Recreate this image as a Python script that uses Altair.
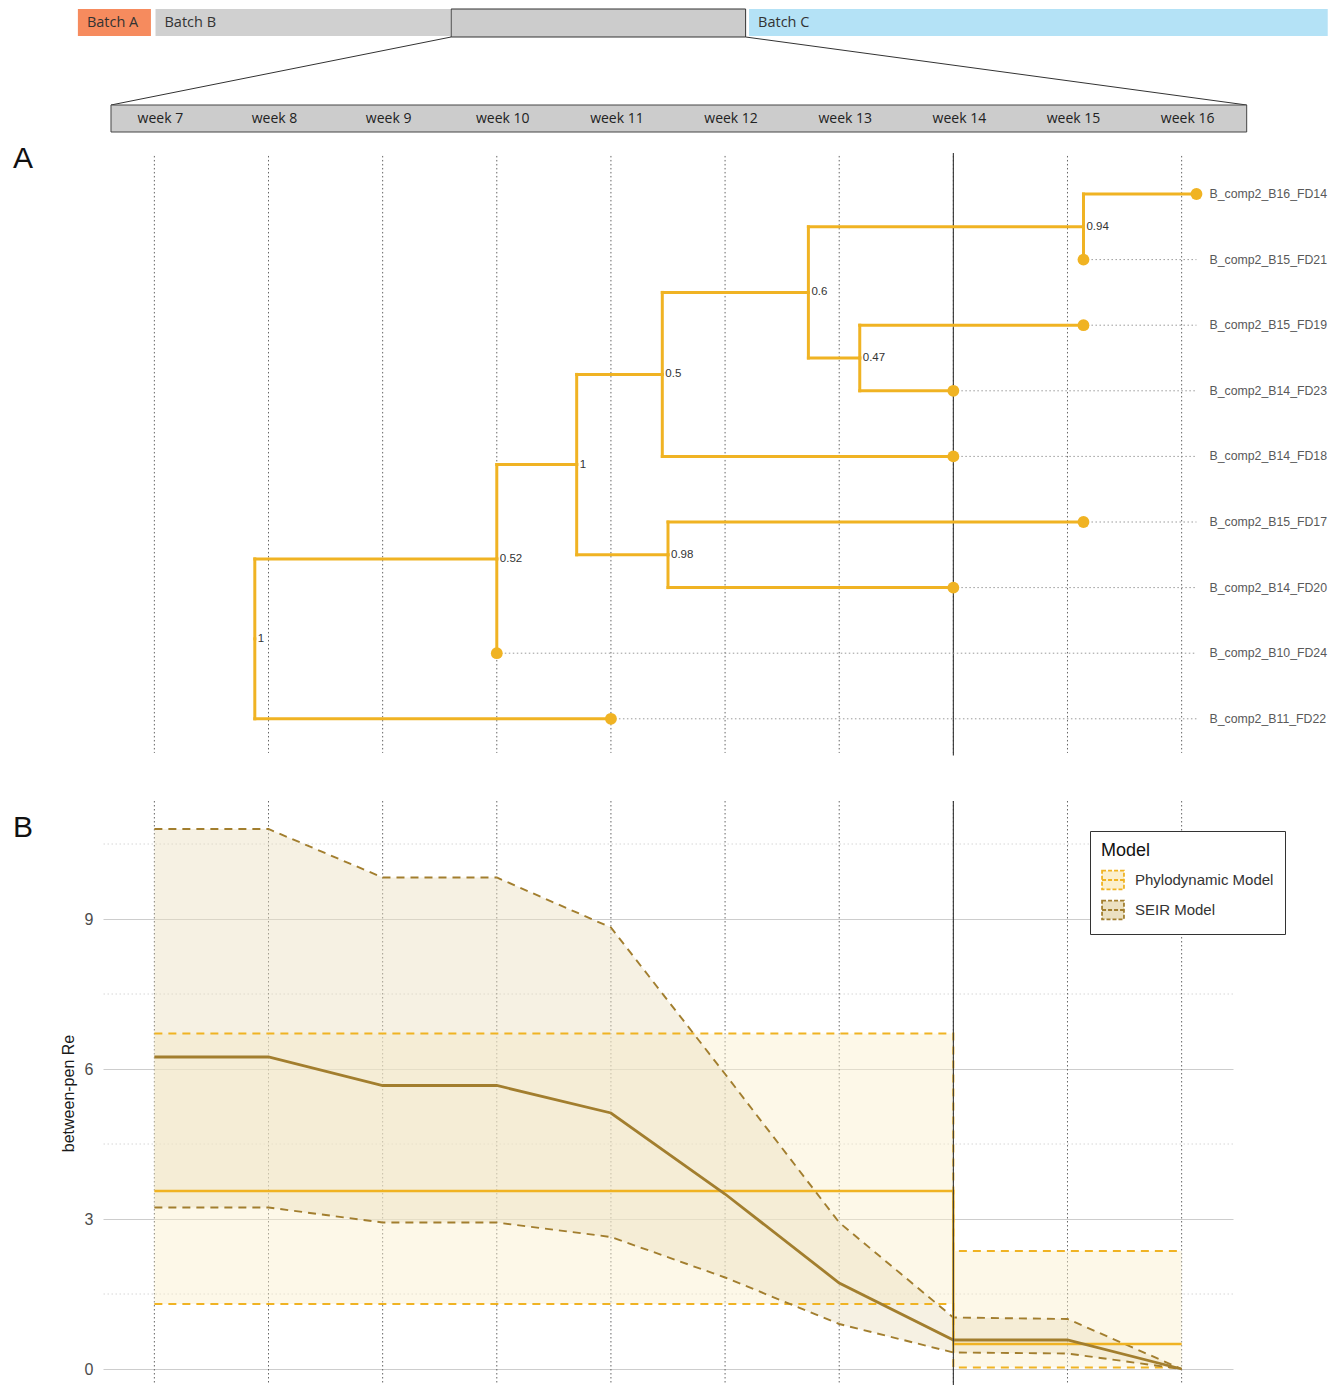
import altair as alt
import pandas as pd

# ---------------- data ----------------
weeks = list(range(7, 17))
week_labels = [f"week {w}" for w in weeks]

# header timeline (in week units of the zoomed scale)
batch_names = ["Batch A", "Batch B", "Batch C"]
batch_start = [6.33, 7.01, 12.21]
batch_end = [6.97, 9.59, 17.28]
batch_colors = ["#F68B5E", "#D0D0D0", "#B4E2F6"]
zoom_start, zoom_end = 9.60, 12.18
weekbar_start, weekbar_end = 6.62, 16.57

# phylogenetic tree
tip_names = ["B_comp2_B16_FD14", "B_comp2_B15_FD21", "B_comp2_B15_FD19",
             "B_comp2_B14_FD23", "B_comp2_B14_FD18", "B_comp2_B15_FD17",
             "B_comp2_B14_FD20", "B_comp2_B10_FD24", "B_comp2_B11_FD22"]
tip_times = [16.13, 15.14, 15.14, 14.0, 14.0, 15.14, 14.0, 10.0, 11.0]
tip_parents = ["n094", "n094", "n047", "n047", "n05", "n098", "n098", "n052", "root"]

node_ids = ["n094", "n047", "n06", "n05", "n098", "n1b", "n052", "root"]
node_times = [15.14, 13.18, 12.73, 11.45, 11.50, 10.70, 10.0, 7.88]
node_parents = ["n06", "n06", "n05", "n1b", "n1b", "n052", "root", ""]
node_support = ["0.94", "0.47", "0.6", "0.5", "0.98", "1", "0.52", "1"]

# between-pen Re
seir_weeks = weeks
seir_median = [6.24, 6.24, 5.67, 5.67, 5.12, 3.50, 1.72, 0.58, 0.58, 0.0]
seir_lower = [3.23, 3.23, 2.93, 2.93, 2.64, 1.83, 0.90, 0.33, 0.31, 0.0]
seir_upper = [10.80, 10.80, 9.83, 9.83, 8.83, 5.90, 2.93, 1.03, 1.00, 0.0]

phylo_weeks = [7, 14, 16]
phylo_median = [3.56, 0.50, 0.50]
phylo_lower = [1.30, 0.03, 0.03]
phylo_upper = [6.71, 2.36, 2.36]

model_names = ["Phylodynamic Model", "SEIR Model"]

# ---------------- styles ----------------
GOLD = "#F0B323"
BROWN = "#A27E2E"
FILL_PHYLO = "#FBEFCD"
FILL_SEIR = "#EBE0C1"
W = 1130
x_scale = alt.Scale(domain=[6.55, 16.45], nice=False, zero=False)
X = lambda f: alt.X(f, scale=x_scale, axis=None)

# ---------------- header ----------------
H_HEAD = 144
hy = alt.Scale(domain=[0, H_HEAD], reverse=True, nice=False, zero=False)

batch_df = pd.DataFrame({"name": batch_names, "start": batch_start, "end": batch_end,
                         "color": batch_colors, "top": 0, "bottom": 27, "mid": 13.5})
batches = alt.Chart(batch_df).mark_rect().encode(
    x=X("start:Q"), x2="end", y=alt.Y("top:Q", scale=hy, axis=None), y2="bottom",
    color=alt.Color("color:N", scale=None))
batch_text = alt.Chart(batch_df).mark_text(
    align="left", baseline="middle", dx=9, font="Open Sans", fontSize=14.5, color="#333333"
).encode(x=X("start:Q"), y=alt.Y("mid:Q", scale=hy, axis=None), text="name:N")

zoom_df = pd.DataFrame({"start": [zoom_start], "end": [zoom_end], "top": [0], "bottom": [28]})
zoom_box = alt.Chart(zoom_df).mark_rect(fill="#CCCCCC", stroke="#333333", strokeWidth=1).encode(
    x=X("start:Q"), x2="end", y=alt.Y("top:Q", scale=hy, axis=None), y2="bottom")

zl_df = pd.DataFrame({"xa": [zoom_start, zoom_end], "xb": [weekbar_start, weekbar_end],
                      "ya": [28, 28], "yb": [96, 96]})
zoom_lines = alt.Chart(zl_df).mark_rule(color="#333333", strokeWidth=1).encode(
    x=X("xa:Q"), x2="xb", y=alt.Y("ya:Q", scale=hy, axis=None), y2="yb")

wb_df = pd.DataFrame({"start": [weekbar_start], "end": [weekbar_end], "top": [96], "bottom": [123]})
week_bar = alt.Chart(wb_df).mark_rect(fill="#CCCCCC", stroke="#444444", strokeWidth=1).encode(
    x=X("start:Q"), x2="end", y=alt.Y("top:Q", scale=hy, axis=None), y2="bottom")

wl_df = pd.DataFrame({"week": weeks, "label": week_labels, "mid": 110})
week_text = alt.Chart(wl_df).mark_text(
    align="center", baseline="middle", dx=6, font="Open Sans", fontSize=14, color="#222222"
).encode(x=X("week:Q"), y=alt.Y("mid:Q", scale=hy, axis=None), text="label:N")

header = alt.layer(batches, zoom_box, batch_text, zoom_lines, week_bar, week_text).properties(
    width=W, height=H_HEAD)

# ---------------- tree (panel A) ----------------
H_A = 648
ya = alt.Scale(domain=[0.375, 10.253], reverse=True, nice=False, zero=False)

times = dict(zip(tip_names, tip_times))
times.update(dict(zip(node_ids, node_times)))
parent = dict(zip(tip_names, tip_parents))
parent.update({k: v for k, v in zip(node_ids, node_parents) if v})
ypos = {n: i + 1 for i, n in enumerate(tip_names)}
children = {}
for c, p in parent.items():
    children.setdefault(p, []).append(c)
while len(ypos) < len(tip_names) + len(node_ids):
    for n in node_ids:
        if n not in ypos and all(c in ypos for c in children[n]):
            ys = [ypos[c] for c in children[n]]
            ypos[n] = (min(ys) + max(ys)) / 2

seg_rows = []
for c, p in parent.items():
    seg_rows.append({"x": times[p], "x2": times[c], "y": ypos[c], "y2": ypos[c]})
    seg_rows.append({"x": times[p], "x2": times[p], "y": ypos[p], "y2": ypos[c]})
seg_df = pd.DataFrame(seg_rows)

tip_df = pd.DataFrame({"name": tip_names, "t": tip_times, "y": [ypos[n] for n in tip_names],
                       "tmax": max(tip_times)})
node_df = pd.DataFrame({"support": node_support, "t": node_times, "y": [ypos[n] for n in node_ids]})

grid_a = pd.DataFrame({"week": weeks, "y0": 0.42, "y1": 9.52})
grid_a_rules = alt.Chart(grid_a).mark_rule(color="#555555", strokeWidth=0.9, strokeDash=[1.5, 2.5]).encode(
    x=X("week:Q"), y=alt.Y("y0:Q", scale=ya, axis=None), y2="y1")
wk14_a = alt.Chart(pd.DataFrame({"week": [14], "y0": [0.375], "y1": [9.56]})).mark_rule(
    color="#333333", strokeWidth=1.1).encode(
    x=X("week:Q"), y=alt.Y("y0:Q", scale=ya, axis=None), y2="y1")
guides = alt.Chart(tip_df).mark_rule(color="#9A9A9A", strokeWidth=1, strokeDash=[1.5, 2.5]).encode(
    x=X("t:Q"), x2="tmax", y=alt.Y("y:Q", scale=ya, axis=None))
branches = alt.Chart(seg_df).mark_rule(color=GOLD, strokeWidth=3, strokeCap="square").encode(
    x=X("x:Q"), x2="x2", y=alt.Y("y:Q", scale=ya, axis=None), y2="y2")
tips = alt.Chart(tip_df).mark_circle(color=GOLD, opacity=1, size=140).encode(
    x=X("t:Q"), y=alt.Y("y:Q", scale=ya, axis=None))
support = alt.Chart(node_df).mark_text(
    align="left", baseline="middle", dx=3, font="Liberation Sans", fontSize=11.5, color="#333333"
).encode(x=X("t:Q"), y=alt.Y("y:Q", scale=ya, axis=None), text="support:N")
tip_text = alt.Chart(tip_df).mark_text(
    align="left", baseline="middle", dx=13, font="Liberation Sans", fontSize=12.3, color="#595959"
).encode(x=X("tmax:Q"), y=alt.Y("y:Q", scale=ya, axis=None), text="name:N")
letter_a = alt.Chart(pd.DataFrame({"t": ["A"]})).mark_text(
    align="left", baseline="alphabetic", font="Liberation Sans", fontSize=30, color="#111111"
).encode(x=alt.value(-90), y=alt.value(15), text="t:N")

panel_a = alt.layer(grid_a_rules, wk14_a, guides, branches, tips, support, tip_text, letter_a).properties(
    width=W, height=H_A)

# ---------------- Re (panel B) ----------------
H_B = 584
yb = alt.Scale(domain=[-0.32, 11.36], nice=False, zero=False)

seir_df = pd.DataFrame({"week": seir_weeks, "med": seir_median, "lo": seir_lower,
                        "hi": seir_upper, "model": model_names[1]})
phylo_df = pd.DataFrame({"week": phylo_weeks, "med": phylo_median, "lo": phylo_lower,
                         "hi": phylo_upper, "model": model_names[0]})

legend = alt.Legend(
    orient="none", legendX=987, legendY=H_HEAD + H_A + 30, title="Model",
    titleFont="Liberation Sans", titleFontSize=18, titleFontWeight="normal", titleColor="#111111",
    titlePadding=8, labelFont="Liberation Sans", labelFontSize=15, labelColor="#333333",
    labelOffset=10, strokeColor="#333333", fillColor="#FFFFFF", padding=11,
    symbolType="M-1,-0.85H1V0.85H-1Z M-1,0H1", symbolSize=480, symbolStrokeWidth=1.8,
    symbolDash=[4, 2], rowPadding=4)
fill_enc = alt.Fill("model:N", scale=alt.Scale(domain=model_names, range=[FILL_PHYLO, FILL_SEIR]),
                    legend=legend)
stroke_enc = alt.Stroke("model:N", scale=alt.Scale(domain=model_names, range=[GOLD, BROWN]),
                        legend=legend)

yaxis = alt.Axis(values=[0, 3, 6, 9], grid=True, gridColor="#CDCDCD", gridWidth=1,
                 ticks=False, domain=False, labelFont="Liberation Sans", labelFontSize=16,
                 labelColor="#4D4D4D", labelPadding=10, title="between-pen Re",
                 titleFont="Liberation Sans", titleFontSize=16, titleFontWeight="normal",
                 titleColor="#1A1A1A", titlePadding=8)

minor_df = pd.DataFrame({"v": [1.5, 4.5, 7.5, 10.5]})
minor = alt.Chart(minor_df).mark_rule(color="#D6D6D6", strokeWidth=1, strokeDash=[1.5, 2.5]).encode(
    y=alt.Y("v:Q", scale=yb, axis=yaxis))
vgrid_b = alt.Chart(pd.DataFrame({"week": weeks})).mark_rule(
    color="#555555", strokeWidth=0.9, strokeDash=[1.5, 2.5]).encode(x=X("week:Q"))

phylo_area = alt.Chart(phylo_df).mark_area(
    interpolate="step-after", fillOpacity=0.45, strokeWidth=0).encode(
    x=X("week:Q"), y=alt.Y("lo:Q", scale=yb), y2="hi", fill=fill_enc)
seir_area = alt.Chart(seir_df).mark_area(
    interpolate="linear", fillOpacity=0.45, strokeWidth=0).encode(
    x=X("week:Q"), y=alt.Y("lo:Q", scale=yb), y2="hi", fill=fill_enc)

phylo_bounds = alt.Chart(phylo_df).transform_fold(["lo", "hi"], as_=["bound", "val"]).mark_line(
    interpolate="step-after", strokeWidth=2, strokeDash=[8, 6]).encode(
    x=X("week:Q"), y=alt.Y("val:Q", scale=yb), detail="bound:N", stroke=stroke_enc)
seir_bounds = alt.Chart(seir_df).transform_fold(["lo", "hi"], as_=["bound", "val"]).mark_line(
    interpolate="linear", strokeWidth=1.9, strokeDash=[8, 6]).encode(
    x=X("week:Q"), y=alt.Y("val:Q", scale=yb), detail="bound:N", stroke=stroke_enc)

phylo_line = alt.Chart(phylo_df).mark_line(interpolate="step-after", color=GOLD, strokeWidth=2.4).encode(
    x=X("week:Q"), y=alt.Y("med:Q", scale=yb))
seir_line = alt.Chart(seir_df).mark_line(color=BROWN, strokeWidth=2.8).encode(
    x=X("week:Q"), y=alt.Y("med:Q", scale=yb))
wk14_b = alt.Chart(pd.DataFrame({"week": [14]})).mark_rule(color="#333333", strokeWidth=1.1).encode(
    x=X("week:Q"))
letter_b = alt.Chart(pd.DataFrame({"t": ["B"]})).mark_text(
    align="left", baseline="alphabetic", font="Liberation Sans", fontSize=30, color="#111111"
).encode(x=alt.value(-90), y=alt.value(36), text="t:N")

panel_b = alt.layer(minor, vgrid_b, phylo_area, seir_area, phylo_bounds, seir_bounds,
                    phylo_line, seir_line, wk14_b, letter_b).properties(width=W, height=H_B)

chart = alt.vconcat(header, panel_a, panel_b, spacing=0, bounds="flush").properties(
    padding={"left": 5, "top": 0, "right": 0, "bottom": 0}
).configure_view(strokeWidth=0)

chart.save("out.html", embed_options={"renderer": "svg", "actions": False})
